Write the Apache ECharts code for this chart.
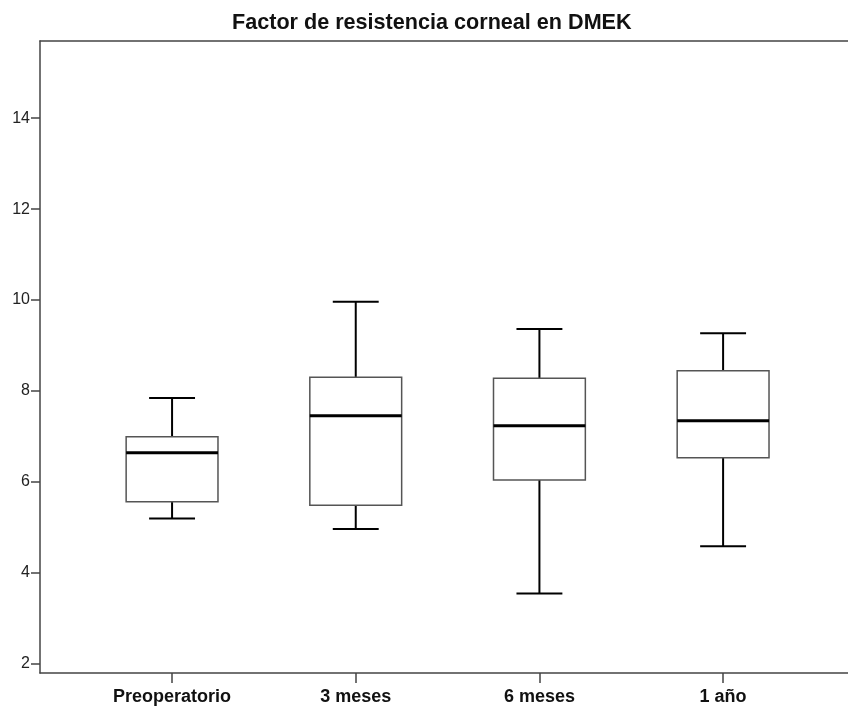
<!DOCTYPE html>
<html>
<head>
<meta charset="utf-8">
<script src="https://cdn.jsdelivr.net/npm/echarts@6/dist/echarts.min.js"></script>
<style>html,body{margin:0;padding:0;background:#fff}#c{width:848px;height:709px}</style>
</head>
<body>
<div id="c"></div>
<script>
const categories = ['Preoperatorio', '3 meses', '6 meses', '1 año'];
const positions = [1, 2, 3, 4];
const whiskerMin = [5.19, 4.96, 3.54, 4.58];
const q1Values = [5.56, 5.48, 6.04, 6.53];
const medianValues = [6.64, 7.45, 7.23, 7.34];
const q3Values = [6.99, 8.30, 8.28, 8.44];
const whiskerMax = [7.84, 9.96, 9.36, 9.27];
const yTicks = [2, 4, 6, 8, 10, 12, 14];

const boxData = positions.map((p, i) => [p, whiskerMin[i], q1Values[i], medianValues[i], q3Values[i], whiskerMax[i]]);

const chart = echarts.init(document.getElementById('c'));
const axisColor = '#444';
chart.setOption({
  animation: false,
  title: {
    text: 'Factor de resistencia corneal en DMEK',
    left: 227,
    top: 7,
    textStyle: { fontFamily: 'Liberation Sans', fontWeight: 'bold', fontSize: 21.6, color: '#111' }
  },
  grid: { left: 40, right: 0, top: 41, bottom: 36, containLabel: false },
  xAxis: [{
    type: 'value',
    min: 0.281,
    max: 4.68,
    splitLine: { show: false },
    axisLine: { show: true, lineStyle: { color: axisColor, width: 1.5 } },
    axisTick: { show: true, customValues: positions, length: 10, lineStyle: { color: axisColor, width: 1.5 } },
    axisLabel: {
      customValues: positions,
      margin: 15,
      formatter: v => categories[Math.round(v) - 1] || '',
      fontFamily: 'Liberation Sans', fontWeight: 'bold', fontSize: 18, color: '#111'
    }
  }, {
    type: 'value',
    position: 'top',
    min: 0.281,
    max: 4.68,
    splitLine: { show: false },
    axisLine: { show: true, lineStyle: { color: axisColor, width: 1.5 } },
    axisTick: { show: false },
    axisLabel: { show: false }
  }],
  yAxis: {
    type: 'value',
    min: 1.79,
    max: 15.70,
    splitLine: { show: false },
    axisLine: { show: true, lineStyle: { color: axisColor, width: 1.5 } },
    axisTick: { show: true, customValues: yTicks, length: 9, lineStyle: { color: axisColor, width: 1.5 } },
    axisLabel: {
      customValues: yTicks,
      margin: 10,
      fontFamily: 'Liberation Sans', fontSize: 16, color: '#222'
    }
  },
  series: [{
    type: 'custom',
    xAxisIndex: 0,
    encode: { x: 0, y: [1, 2, 3, 4, 5] },
    data: boxData,
    renderItem: function (params, api) {
      const x = api.value(0);
      const pMin = api.coord([x, api.value(1)]);
      const pQ1 = api.coord([x, api.value(2)]);
      const pMed = api.coord([x, api.value(3)]);
      const pQ3 = api.coord([x, api.value(4)]);
      const pMax = api.coord([x, api.value(5)]);
      const band = api.size([1, 0])[0];
      const half = band * 0.25;
      const capHalf = band * 0.125;
      const cx = pMed[0];
      const black = { stroke: '#000', lineWidth: 2 };
      return {
        type: 'group',
        children: [
          { type: 'line', shape: { x1: cx, y1: pQ3[1], x2: cx, y2: pMax[1] }, style: black },
          { type: 'line', shape: { x1: cx, y1: pQ1[1], x2: cx, y2: pMin[1] }, style: black },
          { type: 'line', shape: { x1: cx - capHalf, y1: pMax[1], x2: cx + capHalf, y2: pMax[1] }, style: black },
          { type: 'line', shape: { x1: cx - capHalf, y1: pMin[1], x2: cx + capHalf, y2: pMin[1] }, style: black },
          { type: 'rect', shape: { x: cx - half, y: pQ3[1], width: half * 2, height: pQ1[1] - pQ3[1] },
            style: { fill: '#fff', stroke: '#555', lineWidth: 1.5 } },
          { type: 'line', shape: { x1: cx - half, y1: pMed[1], x2: cx + half, y2: pMed[1] }, style: { stroke: '#000', lineWidth: 3 } }
        ]
      };
    }
  }]
});
</script>
</body>
</html>
